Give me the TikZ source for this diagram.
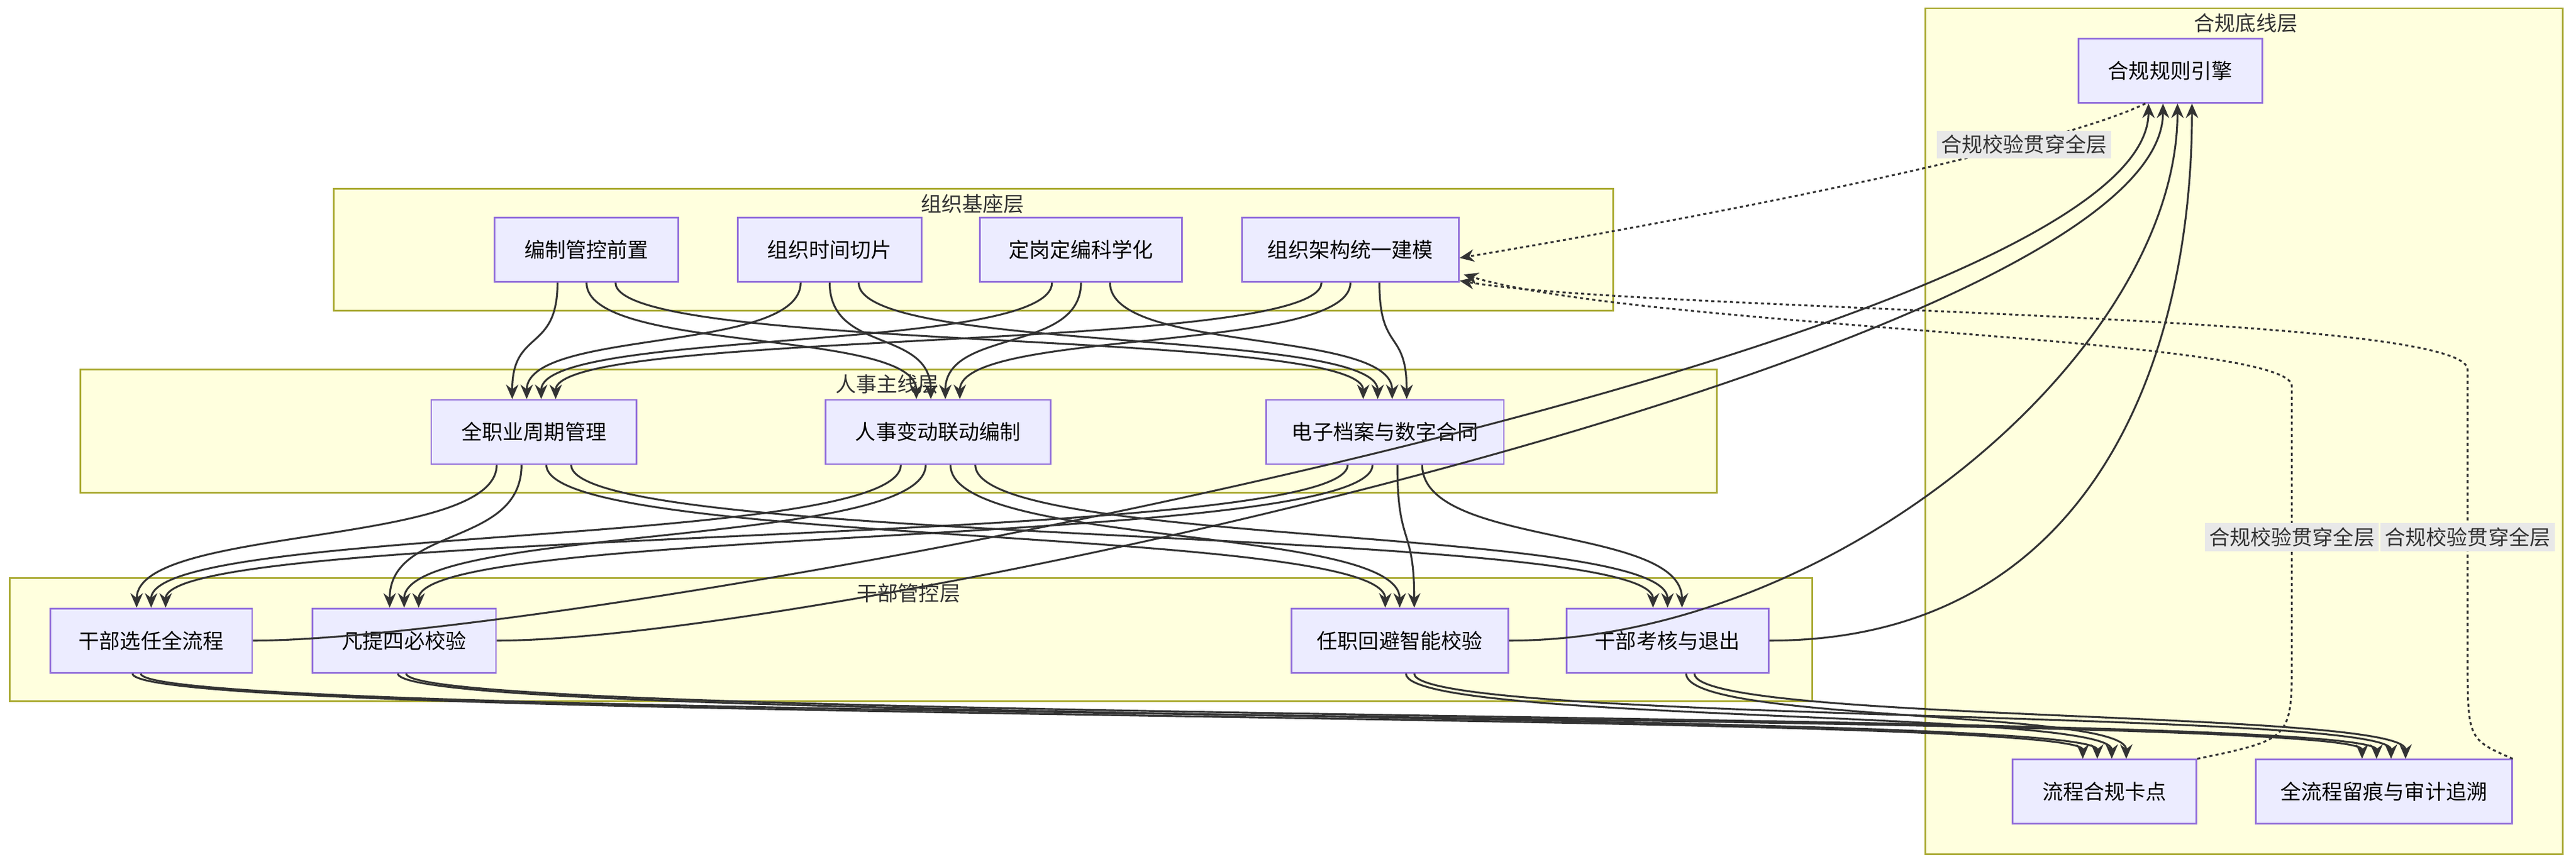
\documentclass[tikz,border=0pt]{standalone}
\usepackage{fontspec}
\setmainfont{Noto Sans CJK SC}
\usetikzlibrary{arrows.meta,positioning}
\definecolor{boxfill}{HTML}{ECECFF}
\definecolor{boxline}{HTML}{9370DB}
\definecolor{layerfill}{HTML}{FFFFDE}
\definecolor{layerline}{HTML}{AAAA33}
\definecolor{linkgray}{HTML}{333333}
\definecolor{tagfill}{HTML}{E8E8E8}
\tikzset{
  box/.style={draw=boxline, fill=boxfill, line width=0.8pt, minimum height=1.09cm, inner sep=0pt, font=\fontsize{10}{12}\selectfont},
  layer/.style={draw=layerline, fill=layerfill, line width=0.8pt},
  title/.style={font=\fontsize{10}{12}\selectfont, text=linkgray},
  link/.style={-{Stealth[length=7pt,width=6pt]}, draw=linkgray, line width=0.9pt},
  check/.style={link, dash pattern=on 1.5pt off 1.5pt},
  tag/.style={fill=tagfill, inner sep=2pt, font=\fontsize{10}{12}\selectfont, text=linkgray}
}
\begin{document}
\begin{tikzpicture}[x=0.02789cm, y=-0.02789cm]
\useasboundingbox (0,0) rectangle (1568,526);
% 分层底框
\draw[layer] (1172,5) rectangle (1560,520);
\node[title] at (1367,14) {合规底线层};
\draw[layer] (203,115) rectangle (982,189);
\node[title] at (592,124) {组织基座层};
\draw[layer] (49,225) rectangle (1045,300);
\node[title] at (540,234) {人事主线层};
\draw[layer] (6,352) rectangle (1103,427);
\node[title] at (553,361) {干部管控层};
% 节点
\node[box, minimum width=3.12cm] (eng) at (1321,43) {合规规则引擎};
\node[box, minimum width=3.12cm] (ozb) at (357,152) {编制管控前置};
\node[box, minimum width=3.12cm] (osj) at (505,152) {组织时间切片};
\node[box, minimum width=3.43cm] (odg) at (658,152) {定岗定编科学化};
\node[box, minimum width=3.68cm] (ojg) at (822,152) {组织架构统一建模};
\node[box, minimum width=3.49cm] (hqz) at (325,263) {全职业周期管理};
\node[box, minimum width=3.82cm] (hrs) at (571,263) {人事变动联动编制};
\node[box, minimum width=4.04cm] (hda) at (843,263) {电子档案与数字合同};
\node[box, minimum width=3.43cm] (gxr) at (92,390) {干部选任全流程};
\node[box, minimum width=3.12cm] (gtj) at (246,390) {凡提四必校验};
\node[box, minimum width=3.68cm] (ghb) at (852,390) {任职回避智能校验};
\node[box, minimum width=3.43cm] (gkh) at (1015,390) {干部考核与退出};
\node[box, minimum width=3.12cm] (lck) at (1281,482) {流程合规卡点};
\node[box, minimum width=4.35cm] (lhj) at (1451,482) {全流程留痕与审计追溯};
% 组织基座 -> 人事主线
\foreach \s [count=\i] in {ozb,osj,odg,ojg}
  \foreach \t [count=\j] in {hqz,hrs,hda}
    \draw[link] ([xshift={(\j-2)*14pt}]\s.south) to[out=-90,in=90,distance=1.2cm] ([xshift={(\i-2.5)*7pt}]\t.north);
% 人事主线 -> 干部管控
\foreach \s [count=\i] in {hqz,hrs,hda}
  \foreach \t [count=\j] in {gxr,gtj,ghb,gkh}
    \draw[link] ([xshift={(\j-2.5)*12pt}]\s.south) to[out=-90,in=90,distance=1.4cm] ([xshift={(\i-2)*7pt}]\t.north);
% 干部管控 -> 合规底线
\foreach \s/\k in {gxr/-1.5,gtj/-0.5,ghb/0.5,gkh/1.5} {
  \pgfmathsetmacro{\da}{\k*6}
  \pgfmathsetmacro{\db}{\k*6+4}
  \pgfmathsetmacro{\dt}{\k*7}
  \draw[link] ([xshift=\da pt]\s.south) .. controls +(0,30) and +(0,-30) .. ([xshift=\dt pt]lck.north);
  \draw[link] ([xshift=\db pt]\s.south) .. controls +(0,30) and +(0,-30) .. ([xshift=\dt pt]lhj.north);
  \draw[link] (\s.east) .. controls +(200,0) and +(0,150) .. ([xshift=\dt pt]eng.south);
}
% 合规校验回路
\draw[check] ([xshift=-12pt]eng.south) .. controls (1250,90) and (1050,130) .. ([yshift=-4pt]ojg.east);
\node[tag] at (1232,88) {合规校验贯穿全层};
\draw[check] (lck.north east) .. controls (1395,450) .. (1395,400) -- (1395,235)
  .. controls (1395,205) and (1000,200) .. ([xshift=2pt,yshift=-12pt]ojg.east);
\node[tag] at (1395,327) {合规校验贯穿全层};
\draw[check] (lhj.north east) .. controls (1502,450) .. (1502,400) -- (1502,225)
  .. controls (1502,190) and (1000,190) .. ([yshift=-15pt]ojg.east);
\node[tag] at (1502,327) {合规校验贯穿全层};
\end{tikzpicture}
\end{document}
